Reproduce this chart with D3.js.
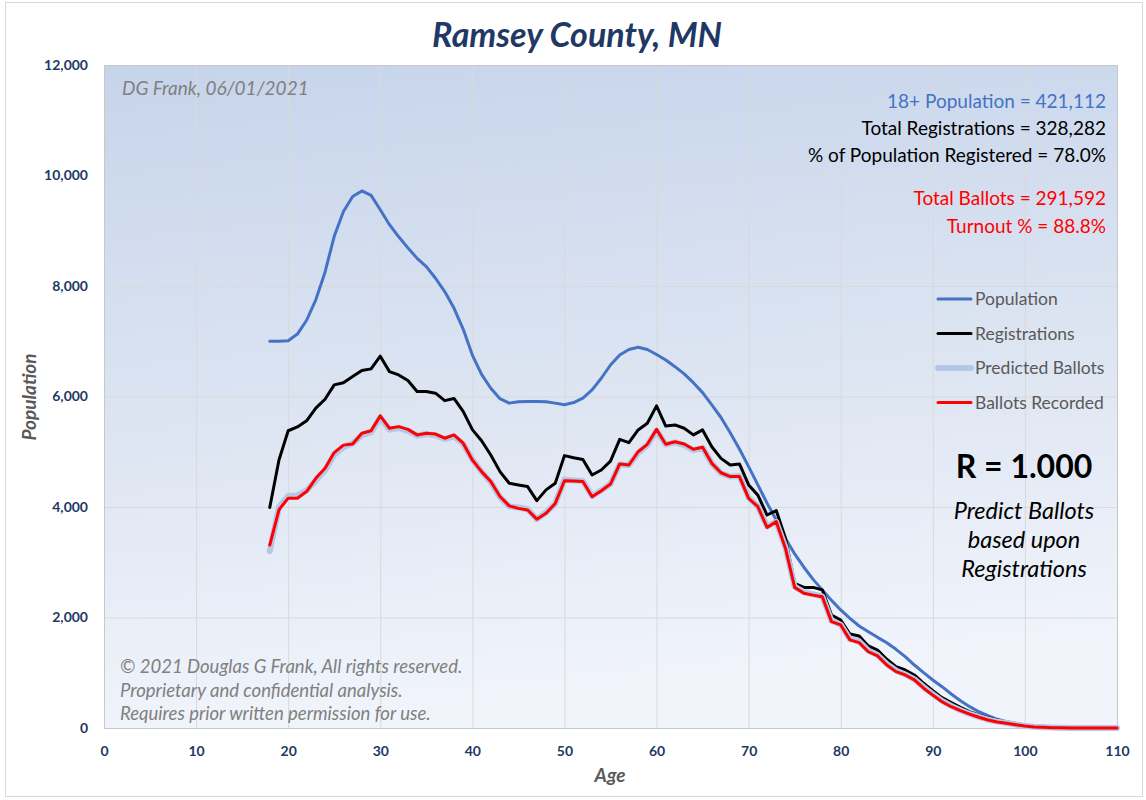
<!DOCTYPE html>
<html>
<head>
<meta charset="utf-8">
<script src="https://cdn.jsdelivr.net/npm/d3@7"></script>
<style>
  body { margin: 0; background: #fff; }
  text { font-family: Lato, "Open Sans", sans-serif; }
</style>
</head>
<body>
<div id="chart"></div>
<script>
// ages 18..110 (x categories)
var ages = [18,19,20,21,22,23,24,25,26,27,28,29,30,31,32,33,34,35,36,37,38,39,40,41,42,43,44,45,46,47,48,49,
  50,51,52,53,54,55,56,57,58,59,60,61,62,63,64,65,66,67,68,69,70,71,72,73,74,75,76,77,78,79,
  80,81,82,83,84,85,86,87,88,89,90,91,92,93,94,95,96,97,98,99,100,101,102,103,104,105,106,107,108,109,110];

var population = [7000,7000,7010,7130,7380,7750,8250,8900,9350,9620,9720,9640,
  9380,9110,8890,8690,8500,8350,8140,7900,7600,7220,
  6750,6400,6150,5960,5880,5905,5910,5910,5905,5880,
  5850,5890,5970,6120,6330,6570,6750,6850,6890,6850,
  6760,6660,6540,6410,6250,6070,5850,5620,5345,5050,
  4730,4400,4070,3765,3430,3150,2910,2690,2500,2310,
  2136,1985,1846,1743,1641,1544,1424,1291,1140,1001,
  869,748,615,494,386,295,223,157,114,85,
  54,42,30,20,12,6,3,2,1,0,0];

var registrations = [3990,4850,5380,5450,5560,5790,5950,6210,6250,6360,6470,6500,
  6730,6450,6390,6290,6090,6090,6060,5925,5965,5730,
  5400,5200,4940,4640,4430,4400,4370,4115,4310,4430,
  4930,4890,4860,4580,4670,4830,5225,5165,5395,5515,
  5830,5465,5485,5425,5305,5395,5090,4880,4760,4780,
  4400,4215,3855,3935,3435,2620,2545,2545,2500,2045,
  1955,1700,1665,1485,1410,1245,1110,1050,960,810,
  675,550,460,375,295,235,185,145,110,72,
  42,25,15,8,4,2,1,0,0,0,0];

var predicted = [3200,4000,4200,4210,4300,4480,4660,4950,5080,5150,5300,5350,
  5620,5400,5430,5380,5290,5320,5300,5230,5280,5140,
  4860,4640,4450,4180,4010,3990,3960,3780,3900,4060,
  4500,4480,4470,4200,4300,4420,4770,4760,4980,5120,
  5380,5130,5170,5120,5030,5070,4790,4610,4550,4560,
  4170,4010,3650,3730,3270,2560,2460,2420,2380,1940,
  1870,1610,1570,1400,1320,1160,1040,970,880,740,
  610,490,400,320,255,200,150,115,90,62,
  38,22,13,7,3,1,0,0,0,0,0];

var ballots = [3310,3950,4160,4160,4280,4520,4700,4985,5120,5140,5335,5380,
  5650,5425,5455,5405,5305,5335,5320,5245,5305,5155,
  4850,4640,4460,4190,4020,3975,3945,3780,3885,4065,
  4475,4470,4460,4185,4295,4415,4780,4760,5000,5135,
  5405,5135,5180,5140,5045,5080,4790,4620,4550,4550,
  4155,4005,3630,3735,3250,2545,2440,2405,2375,1925,
  1865,1595,1545,1380,1305,1140,1020,960,870,720,
  595,475,385,315,250,195,145,110,85,60,
  36,20,12,6,3,1,0,0,0,0,0];

var xTicks = [0,10,20,30,40,50,60,70,80,90,100,110];
var yTicks = [0,2000,4000,6000,8000,10000,12000];

var seriesNames = ["Population", "Registrations", "Predicted Ballots", "Ballots Recorded"];
var seriesColors = ["#4472c4", "#000000", "#b4c7e7", "#ff0000"];
var seriesWidths = [3, 3, 6, 3];

var statLines = ["18+ Population = 421,112", "Total Registrations = 328,282",
  "% of Population Registered = 78.0%", "Total Ballots = 291,592", "Turnout  % = 88.8%"];
var statColors = ["#4472c4", "#000", "#000", "#ff0000", "#ff0000"];

var W = 1146, H = 800;
var plotL = 104, plotR = 1117, plotT = 65, plotB = 728;

var svg = d3.select("#chart").append("svg")
  .attr("width", W)
  .attr("height", H);

var defs = svg.append("defs");
var grad = defs.append("linearGradient")
  .attr("id", "bg")
  .attr("x1", "0%").attr("y1", "0%")
  .attr("x2", "15%").attr("y2", "100%");
grad.append("stop").attr("offset", "0%").attr("stop-color", "#c6d4eb");
grad.append("stop").attr("offset", "55%").attr("stop-color", "#dde5f2");
grad.append("stop").attr("offset", "100%").attr("stop-color", "#f1f4fb");

// outer chart border
svg.append("rect")
  .attr("x", 5.5).attr("y", 2.5)
  .attr("width", 1137).attr("height", 794)
  .attr("fill", "#fff")
  .attr("stroke", "#d9d9d9");

var x = d3.scaleLinear().domain([0, 110]).range([plotL, plotR]);
var y = d3.scaleLinear().domain([0, 12000]).range([plotB, plotT]);

// plot background
svg.append("rect")
  .attr("x", plotL).attr("y", plotT)
  .attr("width", plotR - plotL).attr("height", plotB - plotT)
  .attr("fill", "url(#bg)");

// gridlines
svg.append("g")
  .attr("transform", "translate(0," + plotB + ")")
  .call(d3.axisBottom(x).tickValues(xTicks).tickSize(-(plotB - plotT)).tickFormat(""))
  .call(function(g){
    g.select(".domain").remove();
    g.selectAll("line").attr("stroke", "#d9d9d9");
  });
svg.append("g")
  .attr("transform", "translate(" + plotL + ",0)")
  .call(d3.axisLeft(y).tickValues(yTicks).tickSize(-(plotR - plotL)).tickFormat(""))
  .call(function(g){
    g.select(".domain").remove();
    g.selectAll("line").attr("stroke", "#d9d9d9");
  });

// plot border
svg.append("rect")
  .attr("x", plotL + 0.5).attr("y", plotT + 0.5)
  .attr("width", plotR - plotL).attr("height", plotB - plotT)
  .attr("fill", "none")
  .attr("stroke", "#c8c8c8");

// tick labels
var xAxis = svg.append("g")
  .attr("transform", "translate(0," + plotB + ")")
  .call(d3.axisBottom(x).tickValues(xTicks).tickSize(0).tickPadding(18));
xAxis.select(".domain").remove();
xAxis.selectAll("text")
  .style("font-family", "Lato, sans-serif")
  .style("font-size", "14px")
  .style("font-weight", "bold")
  .attr("fill", "#1f3864");

var yAxis = svg.append("g")
  .attr("transform", "translate(" + plotL + ",0)")
  .call(d3.axisLeft(y).tickValues(yTicks).tickSize(0).tickPadding(16).tickFormat(d3.format(",")));
yAxis.select(".domain").remove();
yAxis.selectAll("text")
  .style("font-family", "Lato, sans-serif")
  .style("font-size", "14px")
  .style("font-weight", "bold")
  .attr("fill", "#1f3864");

// series lines
var seriesData = [population, registrations, predicted, ballots];
var line = d3.line()
  .x(function(d, i){ return x(ages[i]); })
  .y(function(d){ return y(d); });

seriesData.forEach(function(s, k){
  svg.append("path")
    .datum(s)
    .attr("d", line)
    .attr("fill", "none")
    .attr("stroke", seriesColors[k])
    .attr("stroke-width", seriesWidths[k])
    .attr("stroke-linejoin", "round")
    .attr("stroke-linecap", "round");
});

// title
svg.append("text")
  .attr("x", 577).attr("y", 47)
  .attr("text-anchor", "middle")
  .style("font-size", "34px")
  .style("font-weight", "bold")
  .style("font-style", "italic")
  .attr("fill", "#1f3864")
  .text("Ramsey County, MN");

// axis titles
svg.append("text")
  .attr("transform", "translate(36,397) rotate(-90)")
  .attr("text-anchor", "middle")
  .style("font-size", "19px")
  .style("font-weight", "bold")
  .style("font-style", "italic")
  .attr("fill", "#595959")
  .text("Population");

svg.append("text")
  .attr("x", 610).attr("y", 782)
  .attr("text-anchor", "middle")
  .style("font-size", "19px")
  .style("font-weight", "bold")
  .style("font-style", "italic")
  .attr("fill", "#595959")
  .text("Age");

// author note
svg.append("text")
  .attr("x", 122).attr("y", 95)
  .style("font-size", "19px")
  .style("font-style", "italic")
  .attr("fill", "#808080")
  .text("DG Frank, 06/01/2021");

// stats block
var statY = [108, 135, 162, 205, 233];
svg.append("g").selectAll("text")
  .data(statLines)
  .join("text")
  .attr("x", 1106)
  .attr("y", function(d, i){ return statY[i]; })
  .attr("text-anchor", "end")
  .style("font-size", "19px")
  .attr("fill", function(d, i){ return statColors[i]; })
  .text(function(d){ return d; });

// legend
var legend = svg.append("g").attr("transform", "translate(936,299)");
var legendRow = legend.selectAll("g")
  .data(seriesNames)
  .join("g")
  .attr("transform", function(d, i){ return "translate(0," + (i * 34.5) + ")"; });
legendRow.append("line")
  .attr("x1", 2).attr("x2", 35)
  .attr("y1", 0).attr("y2", 0)
  .attr("stroke", function(d, i){ return seriesColors[i]; })
  .attr("stroke-width", function(d, i){ return seriesWidths[i]; })
  .attr("stroke-linecap", "round");
legendRow.append("text")
  .attr("x", 39).attr("y", 6)
  .style("font-size", "17.5px")
  .attr("fill", "#595959")
  .text(function(d){ return d; });

// R annotation
svg.append("text")
  .attr("x", 1024).attr("y", 478)
  .attr("text-anchor", "middle")
  .style("font-size", "32px")
  .style("font-weight", "bold")
  .attr("fill", "#000")
  .text("R = 1.000");

var noteLines = ["Predict Ballots", "based upon", "Registrations"];
svg.append("g").selectAll("text")
  .data(noteLines)
  .join("text")
  .attr("x", 1024)
  .attr("y", function(d, i){ return 519 + i * 29; })
  .attr("text-anchor", "middle")
  .style("font-size", "23.5px")
  .style("font-style", "italic")
  .attr("fill", "#000")
  .text(function(d){ return d; });

// copyright
var copyLines = ["\u00a9 2021  Douglas G Frank, All rights reserved.",
  "Proprietary and confidential analysis.",
  "Requires prior written permission for use."];
svg.append("g").selectAll("text")
  .data(copyLines)
  .join("text")
  .attr("x", 120)
  .attr("y", function(d, i){ return 673 + i * 23.5; })
  .style("font-size", "18.5px")
  .style("font-style", "italic")
  .attr("fill", "#808080")
  .text(function(d){ return d; });
</script>
</body>
</html>
